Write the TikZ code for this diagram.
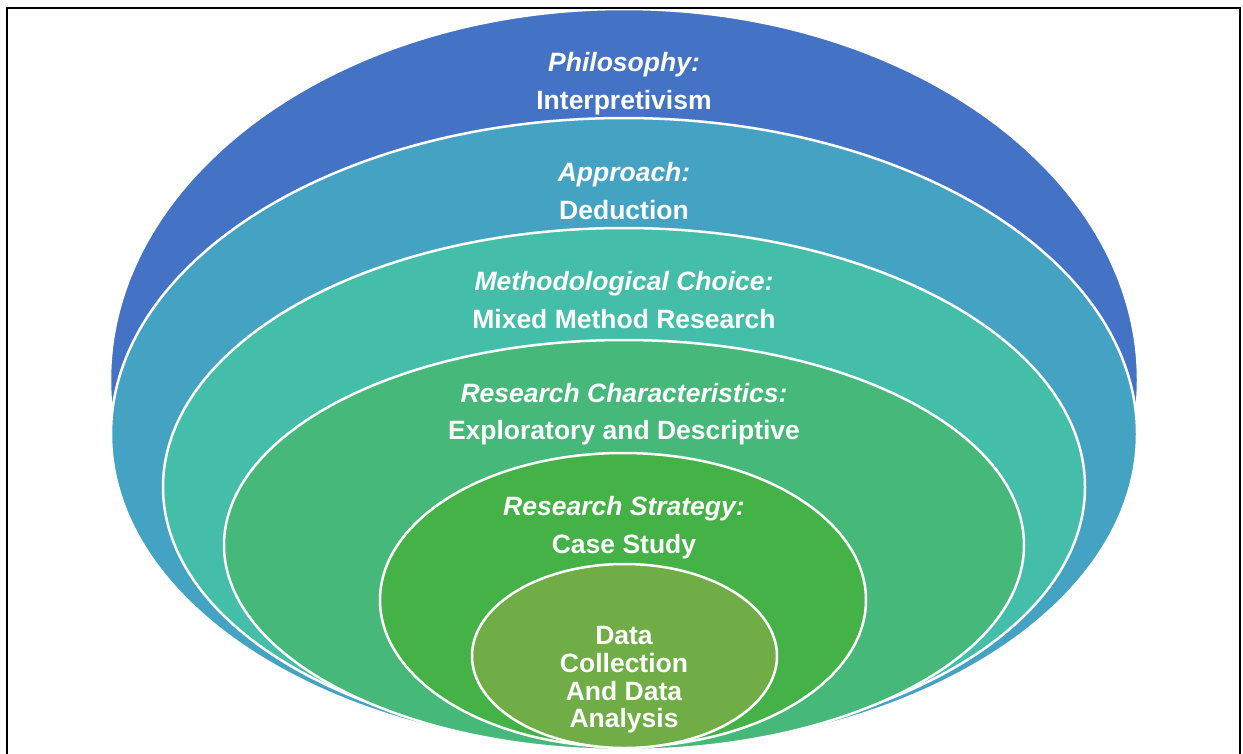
\documentclass[tikz,border=0pt]{standalone}
\usepackage{fontspec}
\setmainfont{Liberation Sans}
\definecolor{cPhil}{HTML}{4472C4}
\definecolor{cAppr}{HTML}{44A3C2}
\definecolor{cMeth}{HTML}{44BDA9}
\definecolor{cChar}{HTML}{46B87A}
\definecolor{cStrat}{HTML}{45B248}
\definecolor{cData}{HTML}{70AD47}
\begin{document}
\begin{tikzpicture}[x=1pt,y=-1pt,
  ring/.style={draw=white,line width=2.5pt},
  lbl/.style={text=white,font=\fontsize{26.5}{27.7}\selectfont\bfseries,anchor=base,inner sep=0pt},
  hdr/.style={lbl,font=\fontsize{26.5}{27.7}\selectfont\bfseries\itshape}]
\useasboundingbox (0,0) rectangle (1243,753);
\clip (0,0) rectangle (1243,753);
\fill[white] (0,0) rectangle (1243,753);
\filldraw[ring,fill=cPhil] (624,380) ellipse [x radius=514,y radius=371];
\filldraw[ring,fill=cAppr] (624,434) ellipse [x radius=513,y radius=316];
\filldraw[ring,fill=cMeth] (624,487) ellipse [x radius=461,y radius=259];
\filldraw[ring,fill=cChar] (624,545) ellipse [x radius=400,y radius=205];
\filldraw[ring,fill=cStrat] (623,600) ellipse [x radius=243,y radius=147];
\filldraw[ring,fill=cData] (624.5,656) ellipse [x radius=152.5,y radius=92];
\node[hdr] (h1) at (624,71.5) {Philosophy:};
\node[lbl] (b1) at (624,109.5) {Interpretivism};
\node[hdr] (h2) at (624,181.5) {Approach:};
\node[lbl] (b2) at (624,219.5) {Deduction};
\node[hdr] (h3) at (624,290.5) {Methodological Choice:};
\node[lbl] (b3) at (624,328.5) {Mixed Method Research};
\node[hdr] (h4) at (624,402.5) {Research Characteristics:};
\node[lbl] (b4) at (624,439.5) {Exploratory and Descriptive};
\node[hdr] (h5) at (624,515.5) {Research Strategy:};
\node[lbl] (b5) at (624,553.5) {Case Study};
\node[lbl] (d1) at (624,644) {Data};
\node[lbl] (d2) at (624,672) {Collection};
\node[lbl] (d3) at (624,700) {And Data};
\node[lbl] (d4) at (624,727) {Analysis};
\draw[black,line width=2.2pt] (7.2,7.8) rectangle (1240,800);
\end{tikzpicture}
\end{document}
